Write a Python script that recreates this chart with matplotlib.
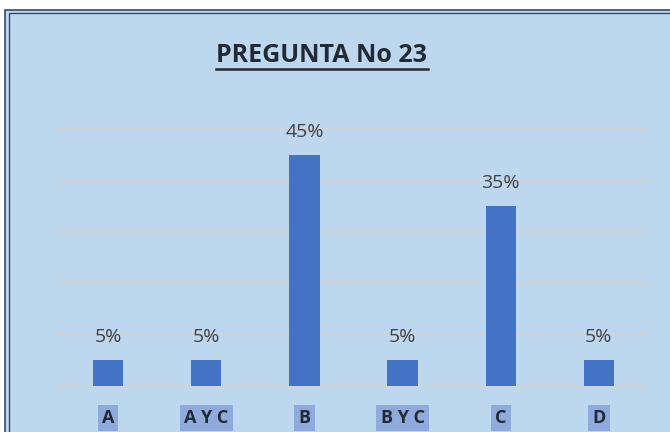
import matplotlib.pyplot as plt
from matplotlib.patches import Rectangle

CATEGORIES = ["A", "A Y C", "B", "B Y C", "C", "D"]
VALUES = [0.05, 0.05, 0.45, 0.05, 0.35, 0.05]
TITLE = "PREGUNTA No 23"

BG = "#BDD7EE"
BAR = "#4472C4"
BORDER = "#2F4B73"

W, H = 670, 432
fig = plt.figure(figsize=(W / 100, H / 100), dpi=100, facecolor="white")

# chart area with double border (runs off the right and bottom edges)
fig.patches.append(Rectangle((5 / W, -0.1), 1.2, (H - 10) / H + 0.1,
                             transform=fig.transFigure, facecolor=BG,
                             edgecolor=BORDER, linewidth=1.2, zorder=-2))
fig.patches.append(Rectangle((8.5 / W, -0.1), 1.2, (H - 13.5) / H + 0.1,
                             transform=fig.transFigure, facecolor="none",
                             edgecolor=BORDER, linewidth=1.0, zorder=-1))

ax = fig.add_axes([59 / W, (H - 386) / H, (648 - 59) / W, (386 - 129) / H])
ax.set_facecolor("none")
x = range(len(CATEGORIES))
bars = ax.bar(x, VALUES, width=0.31, color=BAR, zorder=3)

ax.set_xlim(-0.5, len(CATEGORIES) - 0.5)
ax.set_ylim(0, 0.5)
ax.set_yticks([0, 0.1, 0.2, 0.3, 0.4, 0.5])
ax.yaxis.grid(True, color="#D4D4D4", linewidth=1.3, zorder=0)
for gl in ax.get_ygridlines():
    gl.set_clip_on(False)
ax.tick_params(axis="y", length=0, labelleft=False)
ax.tick_params(axis="x", length=0, pad=16.5)
for s in ax.spines.values():
    s.set_visible(False)

ax.set_xticks(list(x))
ax.set_xticklabels(CATEGORIES, fontfamily="Open Sans", fontweight="bold",
                   fontsize=13, color="#222A35")
for lbl in ax.get_xticklabels():
    lbl.set_bbox(dict(facecolor="#8FAADC", edgecolor="none", pad=3))

for b, v in zip(bars, VALUES):
    ax.annotate(f"{v:.0%}", (b.get_x() + b.get_width() / 2, v),
                xytext=(0, 10), textcoords="offset points", ha="center",
                va="bottom", fontsize=14, color="#404040", fontfamily="Open Sans")

title = fig.text(322 / W, (H - 55) / H, TITLE, ha="center", va="center",
                 fontsize=18, fontweight="bold", color="#222A35",
                 fontfamily="Open Sans")
fig.canvas.draw()
bb = title.get_window_extent()
fig.add_artist(plt.Line2D([bb.x0 / W, bb.x1 / W], [(H - 69) / H, (H - 69) / H],
                          color="#222A35", linewidth=1.8))

fig.savefig("out.png", dpi=100, facecolor="white")
